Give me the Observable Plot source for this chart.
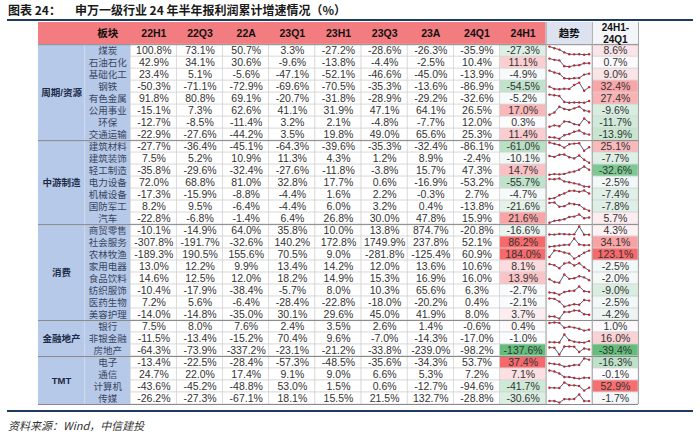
<!DOCTYPE html>
<html><head><meta charset="utf-8">
<script src="https://cdn.jsdelivr.net/npm/d3@7"></script>
<script src="https://cdn.jsdelivr.net/npm/@observablehq/plot@0.6"></script>
<style>
body{margin:0;background:#fff;width:700px;height:437px;overflow:hidden;font-family:"Noto Sans CJK SC",sans-serif;position:relative}
#title{position:absolute;left:8px;top:1px;font-size:12px;font-weight:bold;color:#1a1a1a;white-space:pre;line-height:17px}
#rule1{position:absolute;left:7px;top:19px;width:686px;height:2px;background:#1F3A5F}
#chart{position:absolute;left:0;top:20px}
#rule2{position:absolute;left:7px;top:410px;width:686px;height:2px;background:#1F3A5F}
#source{position:absolute;left:8px;top:417px;font-size:11px;font-style:italic;color:#333;line-height:16px}
</style></head>
<body>
<div id="title"><span>图表 24：</span><span style="margin-left:14px">申万一级行业 24 年半年报利润累计增速情况（%）</span></div>
<div id="rule1"></div>
<div id="chart"></div>
<div id="rule2"></div>
<div id="source">资料来源：Wind，中信建投</div>
<script>
const sectors = ["周期/资源","中游制造","消费","金融地产","TMT"];
const sectorSizes = [8,7,8,3,4];
const industries = ["煤炭","石油石化","基础化工","钢铁","有色金属","公用事业","环保","交通运输",
  "建筑材料","建筑装饰","轻工制造","电力设备","机械设备","国防军工","汽车",
  "商贸零售","社会服务","农林牧渔","家用电器","食品饮料","纺织服饰","医药生物","美容护理",
  "银行","非银金融","房地产","电子","通信","计算机","传媒"];
const periods = ["22H1","22Q3","22A","23Q1","23H1","23Q3","23A","24Q1","24H1"];
const g22H1 = [100.8,42.9,23.4,-50.3,91.8,-15.1,-12.7,-22.9, -27.7,7.5,-35.8,72.0,-17.3,8.2,-22.8, -10.1,-307.8,-189.3,13.0,14.6,-10.4,7.2,-14.0, 7.5,-11.5,-64.3, -13.4,24.7,-43.6,-26.2];
const g22Q3 = [73.1,34.1,5.1,-71.1,80.8,7.3,-8.5,-27.6, -36.4,5.2,-29.6,68.8,-15.9,9.5,-6.8, -14.9,-191.7,190.5,12.2,12.5,-17.9,5.6,-14.8, 8.0,-13.4,-73.9, -22.5,22.0,-45.2,-27.3];
const g22A = [50.7,30.6,-5.6,-72.9,69.1,62.6,-11.4,-44.2, -45.1,10.9,-32.4,81.0,-8.8,-6.4,-1.4, 64.0,-32.6,155.6,9.9,12.0,-38.4,-6.4,-35.0, 7.6,-15.2,-337.2, -28.4,17.4,-48.8,-67.1];
const g23Q1 = [3.3,-9.6,-47.1,-69.6,-20.7,41.1,3.2,3.5, -64.3,11.3,-27.6,32.8,-4.4,-4.4,6.4, 35.8,140.2,70.5,13.4,18.2,-5.7,-28.4,30.1, 2.4,70.4,-23.1, -57.3,9.1,53.0,18.1];
const g23H1 = [-27.2,-13.8,-52.1,-70.5,-31.8,31.9,2.1,19.8, -39.6,4.3,-11.8,17.7,1.6,6.0,26.8, 10.0,172.8,9.0,14.2,14.9,8.0,-22.8,29.6, 3.5,9.6,-21.2, -48.5,9.0,1.5,15.5];
const g23Q3 = [-28.6,-4.4,-46.6,-35.3,-28.9,47.1,-4.8,49.0, -35.3,1.2,-3.8,0.6,2.2,3.2,30.0, 13.8,1749.9,-281.8,12.0,15.3,10.3,-18.0,45.0, 2.6,-7.0,-33.8, -35.6,6.6,0.6,21.5];
const g23A = [-26.3,-2.5,-45.0,-13.6,-29.2,64.1,-7.7,65.6, -32.4,8.9,15.7,-16.9,-0.3,0.4,47.8, 874.7,237.8,-125.4,13.6,16.9,65.6,-20.2,41.9, 1.4,-14.3,-239.0, -34.3,5.3,-12.7,132.7];
const g24Q1 = [-35.9,10.4,-13.9,-86.9,-32.6,26.5,12.0,25.3, -86.1,-2.4,47.3,-53.2,2.7,-13.8,15.9, -20.8,52.1,60.9,10.6,16.0,6.3,0.4,8.0, -0.6,-17.0,-98.2, 53.7,7.2,-94.6,-28.8];
const g24H1 = [-27.3,11.1,-4.9,-54.5,-5.2,17.0,0.3,11.4, -61.0,-10.1,14.7,-55.7,-4.7,-21.6,21.6, -16.6,86.2,184.0,8.1,13.9,-2.7,-2.1,3.7, 0.4,-1.0,-137.6, 37.4,7.1,-41.7,-30.6];
const gDiff = [8.6,0.7,9.0,32.4,27.4,-9.6,-11.7,-13.9, 25.1,-7.7,-32.6,-2.5,-7.4,-7.8,5.7, 4.3,34.1,123.1,-2.5,-2.0,-9.0,-2.5,-4.2, 1.0,16.0,-39.4, -16.3,-0.1,52.9,-1.7];
const trendLabel = "趋势";
const diffLabel = "24H1-\n24Q1";
const sectorHeader = "板块";

const series = [g22H1,g22Q3,g22A,g23Q1,g23H1,g23Q3,g23A,g24Q1,g24H1];
const fmt = v => v.toFixed(1) + "%";
const yTop = -1.85;
const LAT = '"Liberation Sans", "Noto Sans CJK SC", sans-serif';
const CJK = '"Liberation Sans", "Noto Sans CJK SC", sans-serif';

const c24 = Plot.scale({color: {type: "linear", domain: [d3.min(g24H1), 0, 36], range: ["#63BE7B", "#FCFCFF", "#F8696B"], clamp: true, interpolate: "rgb"}});
const cDiff = Plot.scale({color: {type: "linear", domain: [d3.min(gDiff), 0, 55], range: ["#63BE7B", "#FCFCFF", "#F8696B"], clamp: true, interpolate: "rgb"}});

const rows = industries.map((name, i) => ({i, name, vals: series.map(s => s[i]), diff: gDiff[i]}));

const cells = rows.flatMap(r => r.vals.map((v, j) => ({r: r.i, c: 2 + j, v, fill: j === 8 ? c24.apply(v) : "#FFFFFF"})))
  .concat(rows.map(r => ({r: r.i, c: 12, v: r.diff, fill: cDiff.apply(r.diff)})));

let start = 0;
const groups = sectors.map((s, k) => { const g = {name: s, start, size: sectorSizes[k]}; start += sectorSizes[k]; return g; });

const headerBlocks = [
  {x1: 0, x2: 11, fill: "#F37C80"},
  {x1: 11, x2: 12, fill: "#DCE2EF"},
  {x1: 12, x2: 13, fill: "#F4F5F9"}
];
const headerLabels = [{x: 1.5, t: sectorHeader}]
  .concat(periods.map((p, j) => ({x: 2.5 + j, t: p})))
  .concat([{x: 11.5, t: trendLabel}]);

const spark = rows.flatMap(r => {
  const mn = d3.min(r.vals), mx = d3.max(r.vals);
  return r.vals.map((v, j) => ({row: r.i, x: 11.07 + j * 0.1075, y: r.i + 0.84 - 0.68 * (v - mn) / (mx - mn)}));
});

const chart = Plot.plot({
  width: 700, height: 386,
  marginLeft: 38, marginRight: 62, marginTop: 2, marginBottom: 2,
  x: {type: "linear", domain: [0, 13], axis: null},
  y: {type: "linear", domain: [yTop, 30], reverse: true, axis: null},
  color: {type: "identity"},
  style: {fontFamily: LAT, background: "transparent", overflow: "visible"},
  marks: [
    Plot.rect(headerBlocks, {x1: "x1", x2: "x2", y1: yTop, y2: 0, fill: "fill"}),
    Plot.rect([0], {x1: 0, x2: 2, y1: 0, y2: 30, fill: "#B7C9E8"}),
    Plot.ruleX([1], {y1: 0, y2: 30, stroke: "#D6E0F0", strokeWidth: 0.8}),
    Plot.rect(cells, {x1: d => d.c, x2: d => d.c + 1, y1: d => d.r, y2: d => d.r + 1, fill: "fill", stroke: "#D3D3D3", strokeWidth: 0.7}),
    Plot.ruleY(groups.map(g => g.start).concat([30]), {x1: 0, x2: 13, stroke: "#8A8A8A", strokeWidth: 1}),
    Plot.ruleX([11, 12, 13], {y1: yTop, y2: 30, stroke: "#A8A8A8", strokeWidth: 1}),
    Plot.text(headerLabels, {x: "x", y: yTop / 2, text: "t", fontSize: 10.5, fontWeight: "bold", fill: "#111", fontFamily: CJK}),
    Plot.text([diffLabel], {x: 12.5, y: yTop / 2 - 0.04, text: d => d, fontSize: 10, fontWeight: "bold", fill: "#111", lineHeight: 1.15, fontFamily: LAT}),
    Plot.text(groups, {x: 0.5, y: d => d.start + d.size / 2, text: "name", fontSize: 9.5, fontWeight: "bold", fill: "#1B2A47", fontFamily: CJK}),
    Plot.text(rows, {x: 1.5, y: d => d.i + 0.5, text: "name", fontSize: 9.5, fill: "#3A4660", fontFamily: CJK}),
    Plot.text(cells, {x: d => d.c + 0.5, y: d => d.r + 0.5, text: d => fmt(d.v), fontSize: 10.5, fill: "#333", fontFamily: LAT}),
    Plot.line(spark, {x: "x", y: "y", z: "row", stroke: "#4D5C78", strokeWidth: 1}),
    Plot.dot(spark, {x: "x", y: "y", r: 1.2, fill: "#C0282D", stroke: null})
  ]
});
document.getElementById("chart").appendChild(chart);
</script>
</body></html>
